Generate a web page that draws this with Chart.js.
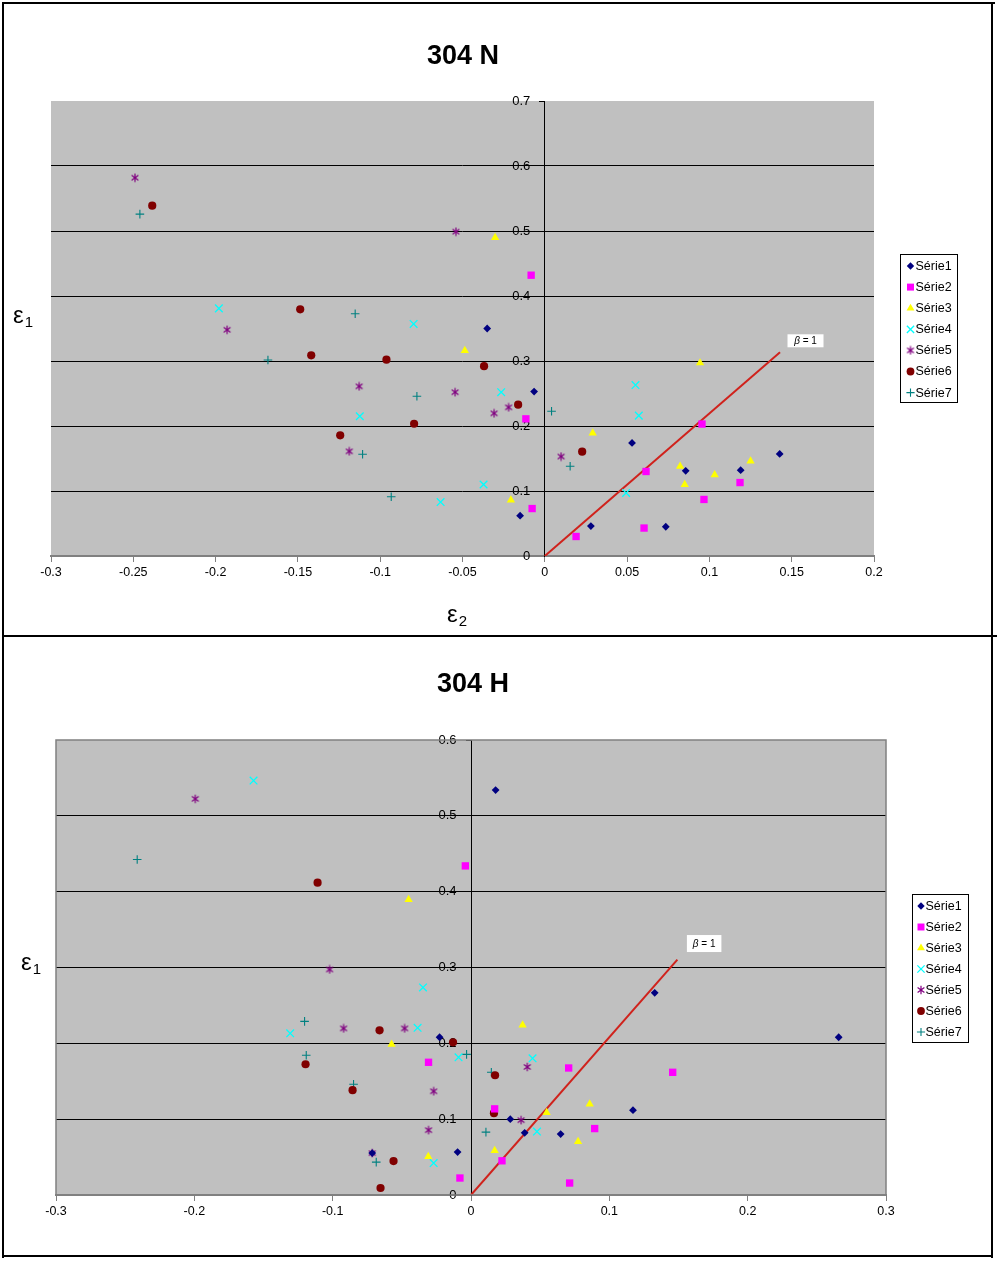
<!DOCTYPE html>
<html><head><meta charset="utf-8">
<script src="https://cdn.jsdelivr.net/npm/chart.js@4.4.1/dist/chart.umd.min.js"></script>
<style>
html,body{margin:0;padding:0;background:#fff;}
body{width:997px;height:1263px;position:relative;overflow:hidden;font-family:"Liberation Sans",Arial,sans-serif;}
canvas{position:absolute;left:0;}
.t{position:absolute;font-weight:bold;font-size:27px;line-height:27px;color:#000;transform:translateX(-50%);white-space:nowrap;}
.ax{position:absolute;font-size:24px;line-height:24px;color:#000;white-space:nowrap;}
.ax sub{font-size:15px;vertical-align:-4px;margin-left:1px;}
.ln{position:absolute;background:#000;}
</style></head><body>
<canvas id="cN" width="997" height="636" style="top:0"></canvas>
<canvas id="cH" width="997" height="627" style="top:636px"></canvas>
<div class="t" style="left:463px;top:42px">304 N</div>
<div class="t" style="left:473px;top:670px">304 H</div>
<div class="ax" style="left:13px;top:303px">ε<sub>1</sub></div>
<div class="ax" style="left:447px;top:602px">ε<sub>2</sub></div>
<div class="ax" style="left:21px;top:950px">ε<sub>1</sub></div>
<div class="ln" style="left:2px;top:2px;width:993px;height:2px"></div>
<div class="ln" style="left:2px;top:2px;width:2px;height:1256px"></div>
<div class="ln" style="left:991px;top:2px;width:2px;height:1256px"></div>
<div class="ln" style="left:2px;top:635px;width:995px;height:2px"></div>
<div class="ln" style="left:2px;top:1255px;width:991px;height:2px"></div>
<script>
// ---------- DATA ----------
const seriesNames = ['Série1','Série2','Série3','Série4','Série5','Série6','Série7'];

// 304 N  (x = ε2, y = ε1)
const n_s1_x = [-0.035, -0.0065, 0.053, -0.015, 0.028, 0.0735, 0.0856, 0.119, 0.1427];
const n_s1_y = [0.350, 0.253, 0.174, 0.062, 0.046, 0.045, 0.131, 0.132, 0.157];
const n_s2_x = [-0.0083, -0.0115, -0.0077, 0.019, 0.0615, 0.0603, 0.0955, 0.0967, 0.1186];
const n_s2_y = [0.432, 0.211, 0.073, 0.030, 0.130, 0.043, 0.203, 0.087, 0.113];
const n_s3_x = [-0.0302, -0.0486, -0.0206, 0.0291, 0.0943, 0.0822, 0.085, 0.1032, 0.125];
const n_s3_y = [0.490, 0.316, 0.086, 0.189, 0.297, 0.138, 0.110, 0.125, 0.146];
const n_s4_x = [-0.198, -0.0797, -0.1124, -0.0265, -0.0372, -0.0633, 0.0551, 0.0571, 0.0494];
const n_s4_y = [0.381, 0.357, 0.215, 0.252, 0.110, 0.083, 0.263, 0.216, 0.097];
const n_s5_x = [-0.249, -0.054, -0.193, -0.1128, -0.0545, -0.0308, -0.022, -0.1188, 0.0099];
const n_s5_y = [0.582, 0.499, 0.348, 0.261, 0.252, 0.2195, 0.2287, 0.161, 0.153];
const n_s6_x = [-0.2385, -0.1486, -0.1419, -0.0962, -0.0369, -0.0162, -0.0794, -0.1243, 0.0227];
const n_s6_y = [0.539, 0.3795, 0.3088, 0.302, 0.292, 0.2328, 0.2035, 0.1857, 0.1605];
const n_s7_x = [-0.246, -0.1682, -0.1152, -0.0777, -0.1107, -0.0933, 0.0041, 0.0154];
const n_s7_y = [0.526, 0.3015, 0.3728, 0.2457, 0.1565, 0.0912, 0.2226, 0.138];
const n_beta_x = [0, 0.1429];
const n_beta_y = [0, 0.3134];
const n_xTicks = ['-0.3','-0.25','-0.2','-0.15','-0.1','-0.05','0','0.05','0.1','0.15','0.2'];
const n_yTicks = ['0','0.1','0.2','0.3','0.4','0.5','0.6','0.7'];

// 304 H
const h_s1_x = [0.0178, -0.0227, 0.0284, 0.0388, -0.0097, -0.0714, 0.1328, 0.2658, 0.1171, 0.0648];
const h_s1_y = [0.534, 0.208, 0.100, 0.082, 0.0566, 0.0553, 0.2666, 0.208, 0.1118, 0.0803];
const h_s2_x = [-0.0041, -0.0307, 0.0171, 0.0224, -0.008, 0.0706, 0.1458, 0.0894, 0.0713];
const h_s2_y = [0.434, 0.175, 0.1136, 0.0451, 0.0224, 0.1675, 0.1618, 0.0876, 0.0158];
const h_s3_x = [-0.0451, -0.0574, 0.0373, -0.0309, 0.0171, 0.0547, 0.0858, 0.0774];
const h_s3_y = [0.3895, 0.1987, 0.224, 0.0508, 0.0587, 0.1087, 0.120, 0.0705];
const h_s4_x = [-0.1572, -0.1307, -0.0347, -0.0386, -0.009, 0.0445, 0.0477, -0.027];
const h_s4_y = [0.5465, 0.2132, 0.2737, 0.2205, 0.1816, 0.1803, 0.0837, 0.0421];
const h_s5_x = [-0.1993, -0.1022, -0.0921, -0.048, -0.027, -0.0307, 0.0407, 0.0362, -0.0714];
const h_s5_y = [0.5224, 0.2974, 0.2197, 0.2197, 0.1368, 0.0855, 0.1688, 0.0987, 0.0553];
const h_s6_x = [-0.1109, -0.0661, -0.013, -0.1196, -0.0856, 0.0174, 0.0166, -0.056, -0.0654];
const h_s6_y = [0.4118, 0.2171, 0.2013, 0.1724, 0.1382, 0.1579, 0.1079, 0.0447, 0.0092];
const h_s7_x = [-0.2413, -0.1203, -0.1191, -0.0849, -0.0032, 0.0147, 0.0108, -0.0685];
const h_s7_y = [0.4425, 0.229, 0.1842, 0.146, 0.1855, 0.1618, 0.0829, 0.0434];
const h_beta_x = [0, 0.1492];
const h_beta_y = [0, 0.3105];
const h_xTicks = ['-0.3','-0.2','-0.1','0','0.1','0.2','0.3'];
const h_yTicks = ['0','0.1','0.2','0.3','0.4','0.5','0.6'];

// ---------- STYLES ----------
Chart.defaults.font.family = '"Liberation Sans", Arial, sans-serif';

function makeAsterisk(color){
  const c = document.createElement('canvas');
  c.width = 10; c.height = 10;
  const g = c.getContext('2d');
  g.strokeStyle = color; g.lineWidth = 1.2;
  g.beginPath();
  g.moveTo(5, 0.8); g.lineTo(5, 9.2);
  g.moveTo(1.6, 2.4); g.lineTo(8.4, 7.6);
  g.moveTo(8.4, 2.4); g.lineTo(1.6, 7.6);
  g.stroke();
  return c;
}

const markerStyles = [
  {pointStyle:'rectRot',  radius:3.9, color:'#000080', bw:0},
  {pointStyle:'rect',     radius:5.2, color:'#ff00ff', bw:0},
  {pointStyle:'triangle', radius:4.8, color:'#ffff00', bw:0},
  {pointStyle:'crossRot', radius:5.4, color:'#00ffff', bw:1.3},
  {pointStyle:makeAsterisk('#800080'), radius:4.6, color:'#800080', bw:1.1},
  {pointStyle:'circle',   radius:4.1, color:'#800000', bw:0},
  {pointStyle:'cross',    radius:4.3, color:'#008080', bw:1.1}
];

function buildDatasets(xsList, ysList, bx, by){
  const ds = xsList.map((xs,i)=>({
    label: seriesNames[i],
    data: xs.map((x,j)=>({x:x, y:ysList[i][j]})),
    showLine:false,
    pointStyle: markerStyles[i].pointStyle,
    pointRadius: markerStyles[i].radius,
    pointHoverRadius: markerStyles[i].radius,
    pointBackgroundColor: markerStyles[i].color,
    pointBorderColor: markerStyles[i].color,
    pointBorderWidth: markerStyles[i].bw,
    backgroundColor: markerStyles[i].color,
    borderColor: markerStyles[i].color
  }));
  ds.push({
    label:'β = 1',
    data: bx.map((x,j)=>({x:x, y:by[j]})),
    showLine:true, borderColor:'#d0221c', borderWidth:2,
    pointRadius:0, pointHoverRadius:0
  });
  return ds;
}

const deco = {
  id:'deco',
  beforeDraw(chart, args, o){
    const {ctx, chartArea:a} = chart;
    ctx.save();
    ctx.fillStyle = '#c0c0c0';
    ctx.fillRect(a.left, a.top, a.right-a.left, a.bottom-a.top);
    ctx.restore();
  },
  afterDraw(chart, args, o){
    const {ctx, chartArea:a} = chart;
    ctx.save();
    if (o.frame){
      ctx.strokeStyle = '#808080'; ctx.lineWidth = 1.5;
      ctx.strokeRect(a.left, a.top, a.right-a.left, a.bottom-a.top);
    }
    // beta label near the end of the line
    const lineDs = chart.data.datasets[chart.data.datasets.length-1];
    const end = lineDs.data[lineDs.data.length-1];
    const px = chart.scales.x.getPixelForValue(end.x), py = chart.scales.y.getPixelForValue(end.y);
    const bx = px + o.beta.dx, by = py + o.beta.dy;
    ctx.fillStyle = '#fff';
    ctx.fillRect(bx, by, o.beta.w, o.beta.h);
    ctx.fillStyle = '#000';
    ctx.textBaseline = 'middle';
    ctx.font = 'italic 10px "Liberation Sans", Arial, sans-serif';
    const wb = ctx.measureText('β').width;
    ctx.font = '10px "Liberation Sans", Arial, sans-serif';
    const wr = ctx.measureText(' = 1').width;
    let tx = bx + (o.beta.w - wb - wr)/2;
    const ty = by + o.beta.h/2 + 0.5;
    ctx.font = 'italic 10px "Liberation Sans", Arial, sans-serif';
    ctx.textAlign = 'left';
    ctx.fillText('β', tx, ty);
    ctx.font = '10px "Liberation Sans", Arial, sans-serif';
    ctx.fillText(' = 1', tx + wb, ty);
    // legend
    const L = o.legend;
    ctx.fillStyle = '#fff';
    ctx.fillRect(L.x, L.y, L.w, L.h);
    ctx.strokeStyle = '#000'; ctx.lineWidth = 1;
    ctx.strokeRect(L.x+0.5, L.y+0.5, L.w, L.h);
    ctx.font = '12.5px "Liberation Sans", Arial, sans-serif';
    ctx.textBaseline = 'middle';
    seriesNames.forEach((name,i)=>{
      const yy = L.row0 + i*L.rowH;
      const m = markerStyles[i];
      ctx.fillStyle = m.color; ctx.strokeStyle = m.color; ctx.lineWidth = m.bw;
      Chart.helpers.drawPoint(ctx, {pointStyle:m.pointStyle, radius:m.radius*0.95, rotation:0, borderWidth:m.bw}, L.mx, yy);
      ctx.fillStyle = '#000';
      ctx.fillText(name, L.tx, yy + 0.5);
    });
    ctx.restore();
  }
};

function makeChart(id, datasets, xmin, xmax, xstep, xT, ymax, yT, padding, decoOpts){
  return new Chart(document.getElementById(id), {
    type:'scatter',
    data:{datasets:datasets},
    plugins:[deco],
    options:{
      responsive:false, animation:false, devicePixelRatio:1,
      layout:{padding:padding},
      plugins:{legend:{display:false}, title:{display:false}, tooltip:{enabled:false}, deco:decoOpts},
      scales:{
        x:{type:'linear', min:xmin, max:xmax, position:{y:0},
           ticks:{stepSize:xstep, autoSkip:false, maxRotation:0, color:'#000', font:{size:12.5}, padding:4,
                  callback:(v,i)=>xT[i]},
           grid:{drawOnChartArea:false, tickLength:5, tickColor:'#808080', color:'#808080'},
           border:{color:'#808080', width:2}},
        y:{type:'linear', min:0, max:ymax, position:{x:0},
           ticks:{stepSize:0.1, color:'#000', font:{size:13}, callback:(v,i)=>yT[i] + '    '},
           grid:{color:(c)=>{const v=c.tick?c.tick.value:0; return (v>0.001 && v<ymax-0.001)?'#000':'rgba(0,0,0,0)';},
                 tickColor:'#000', tickLength:5, lineWidth:1},
           border:{color:'#000', width:1}}
      }
    }
  });
}

makeChart('cN',
  buildDatasets([n_s1_x,n_s2_x,n_s3_x,n_s4_x,n_s5_x,n_s6_x,n_s7_x],[n_s1_y,n_s2_y,n_s3_y,n_s4_y,n_s5_y,n_s6_y,n_s7_y], n_beta_x, n_beta_y),
  -0.3, 0.2, 0.05, n_xTicks, 0.7, n_yTicks,
  {left:51, top:101, right:123, bottom:80},
  {frame:false, beta:{dx:7.5, dy:-18, w:36, h:13},
   legend:{x:900, y:254, w:57, h:148, row0:266, rowH:21.1, mx:910.5, tx:915.5}});

makeChart('cH',
  buildDatasets([h_s1_x,h_s2_x,h_s3_x,h_s4_x,h_s5_x,h_s6_x,h_s7_x],[h_s1_y,h_s2_y,h_s3_y,h_s4_y,h_s5_y,h_s6_y,h_s7_y], h_beta_x, h_beta_y),
  -0.3, 0.3, 0.1, h_xTicks, 0.6, h_yTicks,
  {left:56, top:104, right:111, bottom:68},
  {frame:true, beta:{dx:9.5, dy:-24.5, w:34.5, h:17},
   legend:{x:912, y:258, w:56, h:148, row0:270, rowH:21, mx:921, tx:925.5}});
</script>
</body></html>
